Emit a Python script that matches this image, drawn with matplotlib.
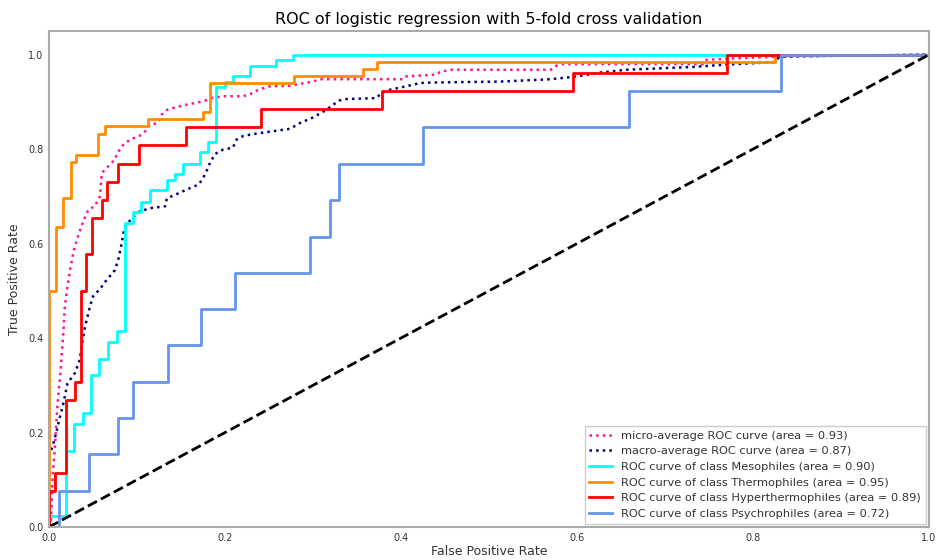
import matplotlib
matplotlib.use("Agg")
import matplotlib.pyplot as plt

# ROC curve points (false positive rate, true positive rate)
micro_fpr = [0, 0.0023, 0.0042, 0.0068, 0.0095, 0.0133, 0.0163, 0.018, 0.021, 0.0246, 0.0284,
             0.033, 0.037, 0.0447, 0.052, 0.058, 0.06, 0.0655, 0.075, 0.0777, 0.086, 0.096,
             0.105, 0.111, 0.115, 0.124, 0.128, 0.134, 0.141, 0.156, 0.175, 0.185, 0.198,
             0.221, 0.232, 0.238, 0.251, 0.274, 0.285, 0.30, 0.308, 0.403, 0.406, 0.441,
             0.444, 0.456, 0.57, 0.577, 0.584, 0.743, 0.747, 0.777, 0.831, 0.903, 1.0]
micro_tpr = [0, 0.015, 0.107, 0.17, 0.255, 0.333, 0.41, 0.467, 0.509, 0.551, 0.587,
             0.615, 0.638, 0.672, 0.679, 0.70, 0.749, 0.76, 0.778, 0.792, 0.813, 0.823,
             0.83, 0.841, 0.852, 0.855, 0.873, 0.883, 0.887, 0.894, 0.901, 0.908, 0.912,
             0.912, 0.919, 0.926, 0.933, 0.934, 0.938, 0.943, 0.948, 0.948, 0.954, 0.958,
             0.963, 0.968, 0.968, 0.977, 0.98, 0.98, 0.989, 0.992, 0.996, 0.998, 1.0]

macro_fpr = [0, 0.004, 0.008, 0.0117, 0.0155, 0.018, 0.021, 0.0295, 0.035, 0.037, 0.041,
             0.0466, 0.05, 0.058, 0.0655, 0.075, 0.079, 0.0826, 0.0845, 0.088, 0.096, 0.103,
             0.115, 0.132, 0.134, 0.143, 0.156, 0.170, 0.175, 0.179, 0.183, 0.189, 0.198,
             0.209, 0.213, 0.221, 0.236, 0.251, 0.274, 0.285, 0.30, 0.315, 0.323, 0.33,
             0.338, 0.372, 0.378, 0.388, 0.406, 0.422, 0.436, 0.513, 0.57, 0.596, 0.626,
             0.656, 0.732, 0.77, 0.823, 0.831, 1.0]
macro_tpr = [0.15, 0.17, 0.198, 0.227, 0.255, 0.276, 0.304, 0.326, 0.354, 0.382, 0.424,
             0.467, 0.488, 0.504, 0.523, 0.544, 0.568, 0.6, 0.622, 0.64, 0.657, 0.668,
             0.675, 0.679, 0.696, 0.703, 0.714, 0.725, 0.738, 0.753, 0.771, 0.79, 0.799,
             0.803, 0.82, 0.828, 0.833, 0.837, 0.843, 0.855, 0.867, 0.883, 0.894, 0.903,
             0.906, 0.908, 0.919, 0.926, 0.933, 0.94, 0.941, 0.943, 0.948, 0.953, 0.962,
             0.968, 0.974, 0.979, 0.984, 0.996, 1.0]

# Per-class curves as step corners (fpr where tpr jumps, tpr after the jump)
meso_fpr = [0, 0, 0.0193, 0.0284, 0.039, 0.0477, 0.057, 0.067, 0.077, 0.086, 0.095, 0.1045,
            0.1148, 0.1337, 0.143, 0.152, 0.1716, 0.181, 0.19, 0.2, 0.209, 0.229, 0.258,
            0.277, 1.0]
meso_tpr = [0, 0.024, 0.161, 0.218, 0.241, 0.321, 0.355, 0.391, 0.415, 0.644, 0.666, 0.689,
            0.7125, 0.735, 0.748, 0.768, 0.793, 0.816, 0.932, 0.943, 0.955, 0.977, 0.988,
            1.0, 1.0]

thermo_fpr = [0, 0, 0.008, 0.0163, 0.0246, 0.031, 0.056, 0.0636, 0.112, 0.175, 0.183,
              0.278, 0.357, 0.373, 0.825, 1.0]
thermo_tpr = [0, 0.5, 0.636, 0.697, 0.773, 0.788, 0.833, 0.848, 0.864, 0.879, 0.939,
              0.955, 0.97, 0.985, 1.0, 1.0]

hyper_fpr = [0, 0, 0.0068, 0.019, 0.030, 0.036, 0.042, 0.0485, 0.06, 0.066, 0.079, 0.102,
             0.156, 0.241, 0.379, 0.596, 0.771, 1.0]
hyper_tpr = [0, 0.077, 0.115, 0.269, 0.308, 0.5, 0.577, 0.654, 0.692, 0.731, 0.769, 0.808,
             0.846, 0.885, 0.923, 0.962, 1.0, 1.0]

psychro_fpr = [0, 0.0117, 0.045, 0.079, 0.095, 0.135, 0.173, 0.211, 0.297, 0.319, 0.33,
               0.425, 0.659, 0.832, 1.0]
psychro_tpr = [0, 0.077, 0.154, 0.231, 0.308, 0.385, 0.462, 0.538, 0.615, 0.692, 0.769,
               0.846, 0.923, 1.0, 1.0]

class_names = ["Mesophiles", "Thermophiles", "Hyperthermophiles", "Psychrophiles"]
class_auc = [0.90, 0.95, 0.89, 0.72]
class_colors = ["aqua", "darkorange", "red", "cornflowerblue"]
micro_auc = 0.93
macro_auc = 0.87

text_color = "#333333"
plt.rcParams["font.family"] = ["DejaVu Sans"]

fig = plt.figure(figsize=(9.38, 5.6), dpi=100)
ax = fig.add_axes([0.0522, 0.0589, 0.9382, 0.8857])

ax.plot(micro_fpr, micro_tpr, color="deeppink", linestyle=":", linewidth=1.8,
        label="micro-average ROC curve (area = {0:0.2f})".format(micro_auc))
ax.plot(macro_fpr, macro_tpr, color="navy", linestyle=":", linewidth=1.8,
        label="macro-average ROC curve (area = {0:0.2f})".format(macro_auc))

curves = [(meso_fpr, meso_tpr), (thermo_fpr, thermo_tpr),
          (hyper_fpr, hyper_tpr), (psychro_fpr, psychro_tpr)]
for (fpr, tpr), name, auc, col in zip(curves, class_names, class_auc, class_colors):
    ax.plot(fpr, tpr, color=col, linewidth=2, drawstyle="steps-post",
            label="ROC curve of class {0} (area = {1:0.2f})".format(name, auc))

ax.plot([0, 1], [0, 1], "k--", linewidth=2)

ax.set_xlim(0.0, 1.0)
ax.set_ylim(0.0, 1.05)
ax.set_xticks([0.0, 0.2, 0.4, 0.6, 0.8, 1.0])
ax.set_yticks([0.0, 0.2, 0.4, 0.6, 0.8, 1.0])
ax.tick_params(labelsize=7, colors=text_color, length=0, pad=4)
for sp in ax.spines.values():
    sp.set_color("#aaaaaa")
    sp.set_linewidth(1.5)

ax.set_xlabel("False Positive Rate", fontsize=9, color=text_color, labelpad=2)
ax.set_ylabel("True Positive Rate", fontsize=9, color=text_color, labelpad=5)
ax.set_title("ROC of logistic regression with 5-fold cross validation",
             fontsize=11.5, color="black", pad=5)

leg = ax.legend(loc="lower right", fontsize=8.2, labelcolor=text_color, fancybox=False,
                framealpha=1.0, edgecolor="#cccccc", borderaxespad=0.3)

fig.savefig("out.png", dpi=100)
